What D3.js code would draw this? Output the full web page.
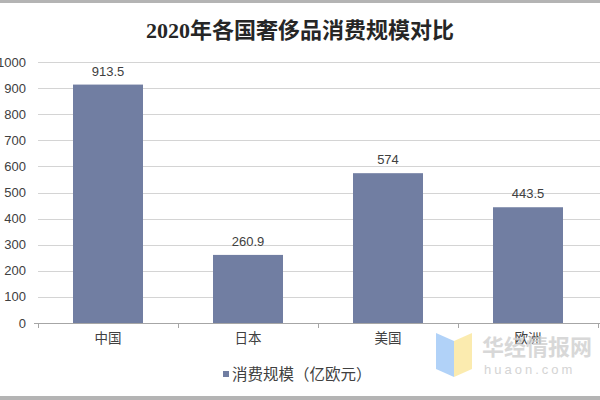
<!DOCTYPE html>
<html>
<head>
<meta charset="utf-8">
<script src="https://cdn.jsdelivr.net/npm/d3@7"></script>
<style>
  body { margin: 0; background: #fff; }
  svg { display: block; }
</style>
</head>
<body>
<div id="container"></div>
<script>
// data
const categories = ['中国', '日本', '美国', '欧洲'];
const values = [913.5, 260.9, 574, 443.5];
const yTicks = [0, 100, 200, 300, 400, 500, 600, 700, 800, 900, 1000];
const titleText = '2020年各国奢侈品消费规模对比';
const legendText = '消费规模（亿欧元）';

const width = 600;
const height = 400;
const margin = { top: 62, left: 38, bottom: 77, right: 2 };
const barColor = '#717ea2';
const textColor = '#404040';

const svg = d3.select('#container')
  .append('svg')
  .attr('width', width)
  .attr('height', height);

// frame lines top / bottom
svg.append('rect').attr('x', 0).attr('y', 0).attr('width', width).attr('height', 3).attr('fill', '#b4b4b4');
svg.append('rect').attr('x', 0).attr('y', 396).attr('width', width).attr('height', 4).attr('fill', '#b4b4b4');

// title
svg.append('text')
  .attr('x', 300)
  .attr('y', 38)
  .attr('text-anchor', 'middle')
  .style('font-family', '"Liberation Serif", "Noto Sans CJK SC", serif')
  .style('font-weight', 'bold')
  .style('font-size', '22px')
  .style('fill', '#262626')
  .text(titleText);

const x = d3.scaleBand()
  .domain(categories)
  .range([margin.left, margin.left + 140 * categories.length])
  .paddingInner(0.5)
  .paddingOuter(0.25);

const y = d3.scaleLinear()
  .domain([0, 1000])
  .range([height - margin.bottom, margin.top]);

// gridlines
svg.append('g')
  .selectAll('line')
  .data(yTicks.slice(1))
  .enter()
  .append('line')
  .attr('x1', margin.left)
  .attr('x2', width)
  .attr('y1', d => Math.round(y(d)) + 0.5)
  .attr('y2', d => Math.round(y(d)) + 0.5)
  .attr('stroke', '#d4d4d4')
  .attr('stroke-width', 1);

// y labels
svg.append('g')
  .selectAll('text')
  .data(yTicks)
  .enter()
  .append('text')
  .attr('x', 26)
  .attr('y', d => y(d) + 4.5)
  .attr('text-anchor', 'end')
  .style('font-family', '"Liberation Sans", Arial, sans-serif')
  .style('font-size', '13px')
  .style('fill', textColor)
  .text(d => d);

// bars
svg.append('g')
  .selectAll('rect')
  .data(values)
  .enter()
  .append('rect')
  .attr('x', (d, i) => x(categories[i]))
  .attr('y', d => y(d))
  .attr('width', x.bandwidth())
  .attr('height', d => y(0) - y(d))
  .attr('fill', barColor);

// value labels
svg.append('g')
  .selectAll('text')
  .data(values)
  .enter()
  .append('text')
  .attr('x', (d, i) => x(categories[i]) + x.bandwidth() / 2)
  .attr('y', d => y(d) - 9)
  .attr('text-anchor', 'middle')
  .style('font-family', '"Liberation Sans", Arial, sans-serif')
  .style('font-size', '13px')
  .style('fill', textColor)
  .text(d => d);

// x axis
const xAxis = d3.axisBottom(x).tickSize(0).tickPadding(10);
const xg = svg.append('g')
  .attr('transform', `translate(0, ${y(0)})`)
  .call(xAxis);
xg.select('.domain').remove();
xg.append('line')
  .attr('x1', margin.left)
  .attr('x2', width)
  .attr('y1', 0.5)
  .attr('y2', 0.5)
  .attr('stroke', '#a6a6a6');
xg.selectAll('.tick text')
  .style('font-family', '"Noto Sans CJK SC", sans-serif')
  .style('font-size', '13.5px')
  .style('fill', textColor);
// boundary tick marks
const step = x.step();
xg.selectAll('.bound')
  .data(d3.range(categories.length + 1))
  .enter()
  .append('line')
  .attr('x1', i => margin.left + i * step + 0.5)
  .attr('x2', i => margin.left + i * step + 0.5)
  .attr('y1', 0)
  .attr('y2', 5)
  .attr('stroke', '#a6a6a6');
// left y tick at zero
xg.append('line')
  .attr('x1', margin.left - 4)
  .attr('x2', margin.left)
  .attr('y1', 0.5)
  .attr('y2', 0.5)
  .attr('stroke', '#a6a6a6');

// legend
const legend = svg.append('g').attr('transform', 'translate(223, 374)');
legend.append('rect')
  .attr('x', 0)
  .attr('y', -3)
  .attr('width', 6)
  .attr('height', 6)
  .attr('fill', barColor);
legend.append('text')
  .attr('x', 9)
  .attr('y', 6)
  .style('font-family', '"Noto Sans CJK SC", sans-serif')
  .style('font-size', '15.5px')
  .style('fill', textColor)
  .text(legendText);

// watermark
const wm = svg.append('g').attr('transform', 'translate(436, 333)');
wm.append('polygon').attr('points', '0,0 18,8 18,44 0,36').attr('fill', '#a9cdf7').attr('opacity', 0.9);
wm.append('polygon').attr('points', '18,8 36,0 36,36 18,44').attr('fill', '#fbe9a6').attr('opacity', 0.9);
wm.append('text')
  .attr('x', 46)
  .attr('y', 22)
  .style('font-family', '"Noto Sans CJK SC", sans-serif')
  .style('font-weight', 'bold')
  .style('font-size', '22px')
  .style('fill', '#cfcfcf')
  .style('opacity', 0.8)
  .text('华经情报网');
wm.append('text')
  .attr('x', 48)
  .attr('y', 41)
  .style('font-family', '"Liberation Sans", sans-serif')
  .style('font-size', '13px')
  .style('letter-spacing', '3px')
  .style('fill', '#d4d4d4')
  .text('huaon.com');
</script>
</body>
</html>
